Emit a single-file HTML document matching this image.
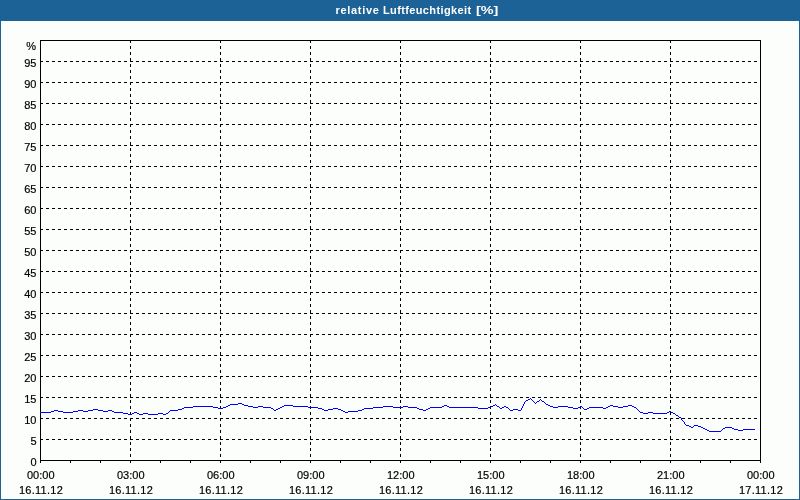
<!DOCTYPE html>
<html lang="de">
<head>
<meta charset="utf-8">
<title>relative Luftfeuchtigkeit [%]</title>
<style>
html,body{margin:0;padding:0;background:#fcfefc;}
body{width:800px;height:500px;overflow:hidden;position:relative;font-family:"Liberation Sans",sans-serif;}
#frame{position:absolute;left:0;top:0;width:798px;height:478px;border:1px solid #1c6296;border-top:21px solid #1c6296;background:#fcfefc;}
#title{position:absolute;left:0;top:0;width:800px;height:21px;line-height:20px;white-space:nowrap;color:#fff;font-weight:bold;font-size:11px;}
#title span{position:absolute;top:0;display:block;transform-origin:0 50%;}
#t1{left:335.5px;letter-spacing:0.69px;}
#t2{left:383px;letter-spacing:0.37px;}
#t3{left:475.6px;transform:scaleX(1.31);}
svg{position:absolute;left:0;top:0;}
svg text{font-family:"Liberation Sans",sans-serif;font-size:11px;fill:#000;stroke:#000;stroke-width:0.18px;}
svg text.d{letter-spacing:0.27px;}
</style>
</head>
<body>
<div id="frame"></div>
<div id="title"><span id="t1">relative </span><span id="t2">Luftfeuchtigkeit </span><span id="t3">[%]</span></div>
<svg width="800" height="500" viewBox="0 0 800 500">
<g shape-rendering="crispEdges">
<g stroke="#000" stroke-width="1" stroke-dasharray="3 3" fill="none">
<line x1="40" y1="439.5" x2="760" y2="439.5"/>
<line x1="40" y1="418.5" x2="760" y2="418.5"/>
<line x1="40" y1="397.5" x2="760" y2="397.5"/>
<line x1="40" y1="376.5" x2="760" y2="376.5"/>
<line x1="40" y1="355.5" x2="760" y2="355.5"/>
<line x1="40" y1="334.5" x2="760" y2="334.5"/>
<line x1="40" y1="313.5" x2="760" y2="313.5"/>
<line x1="40" y1="292.5" x2="760" y2="292.5"/>
<line x1="40" y1="271.5" x2="760" y2="271.5"/>
<line x1="40" y1="250.5" x2="760" y2="250.5"/>
<line x1="40" y1="229.5" x2="760" y2="229.5"/>
<line x1="40" y1="208.5" x2="760" y2="208.5"/>
<line x1="40" y1="187.5" x2="760" y2="187.5"/>
<line x1="40" y1="166.5" x2="760" y2="166.5"/>
<line x1="40" y1="145.5" x2="760" y2="145.5"/>
<line x1="40" y1="124.5" x2="760" y2="124.5"/>
<line x1="40" y1="103.5" x2="760" y2="103.5"/>
<line x1="40" y1="82.5" x2="760" y2="82.5"/>
<line x1="40" y1="61.5" x2="760" y2="61.5"/>
<line x1="130.5" y1="40" x2="130.5" y2="460"/>
<line x1="220.5" y1="40" x2="220.5" y2="460"/>
<line x1="310.5" y1="40" x2="310.5" y2="460"/>
<line x1="400.5" y1="40" x2="400.5" y2="460"/>
<line x1="490.5" y1="40" x2="490.5" y2="460"/>
<line x1="580.5" y1="40" x2="580.5" y2="460"/>
<line x1="670.5" y1="40" x2="670.5" y2="460"/>
</g>
<path d="M40.5 40.5H760.5V460.5H40.5Z" fill="none" stroke="#000" stroke-width="1"/>
<path d="M40 460h1v3h-1zM70 460h1v3h-1zM100 460h1v3h-1zM130 460h1v3h-1zM160 460h1v3h-1zM190 460h1v3h-1zM220 460h1v3h-1zM250 460h1v3h-1zM280 460h1v3h-1zM310 460h1v3h-1zM340 460h1v3h-1zM370 460h1v3h-1zM400 460h1v3h-1zM430 460h1v3h-1zM460 460h1v3h-1zM490 460h1v3h-1zM520 460h1v3h-1zM550 460h1v3h-1zM580 460h1v3h-1zM610 460h1v3h-1zM640 460h1v3h-1zM670 460h1v3h-1zM700 460h1v3h-1zM730 460h1v3h-1zM760 460h1v3h-1z" fill="#000"/>
<path d="M40 412h11v1h-11zM51 411h3v1h-3zM54 410h4v1h-4zM58 411h5v1h-5zM63 412h10v1h-10zM73 411h5v1h-5zM78 410h5v1h-5zM83 411h5v1h-5zM88 410h5v1h-5zM93 409h5v1h-5zM98 410h5v1h-5zM103 411h5v1h-5zM108 410h4v1h-4zM112 411h2v1h-2zM114 412h6v1h-6zM120 412h3v1h-3zM123 413h5v1h-5zM128 414h4v1h-4zM132 413h2v1h-2zM134 412h3v1h-3zM137 413h2v1h-2zM139 414h4v1h-4zM143 413h5v1h-5zM148 414h10v1h-10zM158 413h5v1h-5zM163 414h3v1h-3zM166 413h2v1h-2zM168 412h1v1h-1zM169 411h1v1h-1zM170 410h8v1h-8zM178 409h4v1h-4zM182 408h2v1h-2zM184 407h9v1h-9zM193 406h7v1h-7zM200 406h13v1h-13zM213 407h5v1h-5zM218 408h5v1h-5zM223 407h3v1h-3zM226 406h2v1h-2zM228 405h2v1h-2zM230 404h8v1h-8zM238 403h4v1h-4zM242 404h2v1h-2zM244 405h4v1h-4zM248 406h5v1h-5zM253 407h5v1h-5zM258 406h5v1h-5zM263 407h8v1h-8zM271 408h2v1h-2zM273 409h1v1h-1zM274 410h2v1h-2zM276 409h2v1h-2zM278 408h2v1h-2zM280 407h2v1h-2zM282 406h2v1h-2zM284 405h9v1h-9zM293 406h15v1h-15zM308 407h10v1h-10zM318 408h4v1h-4zM322 409h2v1h-2zM324 410h4v1h-4zM328 409h5v1h-5zM333 408h5v1h-5zM338 409h3v1h-3zM341 410h2v1h-2zM343 411h2v1h-2zM345 412h3v1h-3zM348 411h10v1h-10zM358 410h2v1h-2zM360 410h2v1h-2zM362 409h2v1h-2zM364 408h9v1h-9zM373 407h10v1h-10zM383 406h10v1h-10zM393 407h10v1h-10zM403 406h5v1h-5zM408 407h9v1h-9zM417 408h2v1h-2zM419 409h4v1h-4zM423 410h3v1h-3zM426 409h2v1h-2zM428 408h2v1h-2zM430 407h10v1h-10zM440 407h2v1h-2zM442 406h2v1h-2zM444 405h3v1h-3zM447 406h2v1h-2zM449 407h29v1h-29zM478 408h10v1h-10zM488 407h3v1h-3zM491 406h2v1h-2zM493 405h2v1h-2zM495 404h1v1h-1zM496 405h1v1h-1zM497 406h2v1h-2zM499 407h1v1h-1zM500 408h2v1h-2zM502 407h2v1h-2zM504 406h2v1h-2zM506 407h2v1h-2zM508 408h1v1h-1zM509 409h1v1h-1zM510 410h3v1h-3zM513 409h5v1h-5zM518 410h2v1h-2zM550 406h3v1h-3zM553 407h5v1h-5zM558 406h10v1h-10zM568 407h5v1h-5zM573 408h5v1h-5zM578 407h2v1h-2zM580 406h2v1h-2zM582 407h1v1h-1zM583 408h1v1h-1zM584 409h3v1h-3zM587 408h2v1h-2zM589 407h11v1h-11zM600 407h3v1h-3zM603 408h3v1h-3zM606 407h2v1h-2zM608 406h2v1h-2zM610 405h3v1h-3zM613 406h5v1h-5zM618 407h5v1h-5zM623 406h5v1h-5zM628 405h4v1h-4zM632 406h2v1h-2zM634 407h2v1h-2zM636 408h1v1h-1zM637 409h1v1h-1zM638 410h1v1h-1zM639 411h1v1h-1zM640 412h3v1h-3zM643 413h5v1h-5zM648 412h5v1h-5zM653 413h14v1h-14zM667 412h2v1h-2zM669 411h2v1h-2zM671 412h2v1h-2zM673 413h2v1h-2zM675 414h1v1h-1zM676 415h2v1h-2zM678 416h1v1h-1zM679 417h1v1h-1zM686 425h3v1h-3zM689 426h2v1h-2zM691 427h2v1h-2zM693 426h1v1h-1zM694 425h4v1h-4zM698 426h3v1h-3zM701 427h2v1h-2zM703 428h2v1h-2zM705 429h2v1h-2zM707 430h2v1h-2zM709 431h12v1h-12zM721 430h1v1h-1zM722 429h1v1h-1zM723 428h2v1h-2zM725 427h7v1h-7zM732 428h2v1h-2zM734 429h4v1h-4zM738 430h5v1h-5zM743 429h12v1h-12zM520 410h1v1h-1zM521 408h1v2h-1zM522 406h1v2h-1zM523 404h1v2h-1zM524 402h1v2h-1zM525 401h1v1h-1zM526 400h1v1h-1zM527 400h1v1h-1zM528 399h1v1h-1zM529 399h1v1h-1zM530 398h1v1h-1zM531 399h1v1h-1zM532 400h1v1h-1zM533 401h1v1h-1zM534 402h1v1h-1zM535 403h1v1h-1zM536 402h1v1h-1zM537 401h1v1h-1zM538 401h1v1h-1zM539 400h1v1h-1zM540 399h1v1h-1zM541 400h1v1h-1zM542 401h1v1h-1zM543 401h1v1h-1zM544 402h1v1h-1zM545 403h1v1h-1zM546 404h1v1h-1zM547 404h1v1h-1zM548 405h1v1h-1zM549 405h1v1h-1zM680 417h1v1h-1zM681 418h1v2h-1zM682 420h1v1h-1zM683 421h1v1h-1zM684 422h1v2h-1zM685 424h1v1h-1z" fill="#0000FF"/>
</g>
<g>
<text x="36.5" y="466" text-anchor="end">0</text>
<text x="36.5" y="445" text-anchor="end">5</text>
<text x="36.5" y="424" text-anchor="end">10</text>
<text x="36.5" y="403" text-anchor="end">15</text>
<text x="36.5" y="382" text-anchor="end">20</text>
<text x="36.5" y="361" text-anchor="end">25</text>
<text x="36.5" y="340" text-anchor="end">30</text>
<text x="36.5" y="319" text-anchor="end">35</text>
<text x="36.5" y="298" text-anchor="end">40</text>
<text x="36.5" y="277" text-anchor="end">45</text>
<text x="36.5" y="256" text-anchor="end">50</text>
<text x="36.5" y="235" text-anchor="end">55</text>
<text x="36.5" y="214" text-anchor="end">60</text>
<text x="36.5" y="193" text-anchor="end">65</text>
<text x="36.5" y="172" text-anchor="end">70</text>
<text x="36.5" y="151" text-anchor="end">75</text>
<text x="36.5" y="130" text-anchor="end">80</text>
<text x="36.5" y="109" text-anchor="end">85</text>
<text x="36.5" y="88" text-anchor="end">90</text>
<text x="36.5" y="67" text-anchor="end">95</text>
<text x="36" y="50" text-anchor="end">%</text>
<text x="27" y="479">00:00</text>
<text class="d" x="18.9" y="494">16.11.12</text>
<text x="117" y="479">03:00</text>
<text class="d" x="108.9" y="494">16.11.12</text>
<text x="207" y="479">06:00</text>
<text class="d" x="198.9" y="494">16.11.12</text>
<text x="297" y="479">09:00</text>
<text class="d" x="288.9" y="494">16.11.12</text>
<text x="387" y="479">12:00</text>
<text class="d" x="378.9" y="494">16.11.12</text>
<text x="477" y="479">15:00</text>
<text class="d" x="468.9" y="494">16.11.12</text>
<text x="567" y="479">18:00</text>
<text class="d" x="558.9" y="494">16.11.12</text>
<text x="657" y="479">21:00</text>
<text class="d" x="648.9" y="494">16.11.12</text>
<text x="747" y="479">00:00</text>
<text class="d" x="738.9" y="494">17.11.12</text>
</g>
</svg>
</body>
</html>
